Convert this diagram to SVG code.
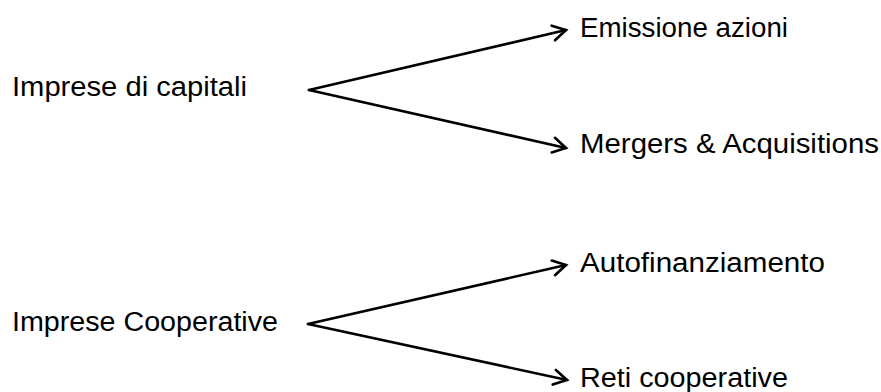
<svg xmlns="http://www.w3.org/2000/svg" width="881" height="392" viewBox="0 0 881 392">
<style>
text{font-family:"Liberation Sans",Arial,sans-serif;font-size:27px;fill:#000}
.c{stroke:#000;stroke-width:2.6;fill:none;stroke-linecap:round}
</style>
<defs>
<marker id="ah" markerUnits="userSpaceOnUse" markerWidth="30" markerHeight="30" viewBox="-16 -15 20 30" refX="0" refY="0" orient="auto">
<path d="M-13,-7.5 L0,0 L-13,7.5" fill="none" stroke="#000" stroke-width="2.6" stroke-linecap="round" stroke-linejoin="miter"/>
</marker>
</defs>
<rect width="881" height="392" fill="#fff"/>
<g id="n-capitali"><text x="12" y="96" textLength="235" lengthAdjust="spacingAndGlyphs">Imprese di capitali</text></g>
<g id="n-emissione"><text x="580" y="37" textLength="208" lengthAdjust="spacingAndGlyphs">Emissione azioni</text></g>
<g id="n-mergers"><text x="580" y="153" textLength="299" lengthAdjust="spacingAndGlyphs">Mergers &amp; Acquisitions</text></g>
<g id="n-cooperative"><text x="12" y="331" textLength="266" lengthAdjust="spacingAndGlyphs">Imprese Cooperative</text></g>
<g id="n-autofin"><text x="580" y="272" textLength="245" lengthAdjust="spacingAndGlyphs">Autofinanziamento</text></g>
<g id="n-reti"><text x="580" y="387" textLength="208" lengthAdjust="spacingAndGlyphs">Reti cooperative</text></g>
<g id="connectors" class="c">
<line x1="309" y1="90" x2="566" y2="30" marker-end="url(#ah)"/>
<line x1="309" y1="90" x2="566" y2="148" marker-end="url(#ah)"/>
<line x1="308" y1="324" x2="566" y2="265" marker-end="url(#ah)"/>
<line x1="308" y1="324" x2="567" y2="380" marker-end="url(#ah)"/>
</g>
</svg>
